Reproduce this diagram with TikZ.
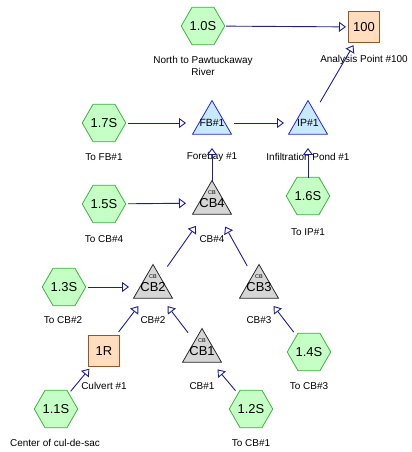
\documentclass[tikz,border=0pt]{standalone}
\usepackage{fontspec}
\setmainfont{Liberation Sans}
\usepackage{tikz}
\usetikzlibrary{positioning}
\usetikzlibrary{arrows.meta}
\usetikzlibrary{shapes.geometric}
\usepackage{xcolor}

\definecolor{hexfill}{RGB}{198,255,198}
\definecolor{hexdraw}{RGB}{60,178,60}
\definecolor{reachfill}{RGB}{255,221,190}
\definecolor{reachdraw}{RGB}{150,85,35}
\definecolor{pondfill}{RGB}{200,234,255}
\definecolor{ponddraw}{RGB}{35,35,225}
\definecolor{cbfill}{RGB}{214,214,214}
\definecolor{cbdraw}{RGB}{40,40,40}
\definecolor{flowblue}{RGB}{30,30,140}

\tikzset{
  subcat/.style={regular polygon, regular polygon sides=6, minimum size=42bp, inner sep=0pt,
    draw=hexdraw, fill=hexfill, line width=0.8bp, font=\fontsize{13}{15}\selectfont},
  reach/.style={rectangle, minimum size=31bp, inner sep=0pt,
    draw=reachdraw, fill=reachfill, line width=0.8bp, font=\fontsize{13}{15}\selectfont},
  pond/.style={regular polygon, regular polygon sides=3, minimum size=45bp, inner sep=0pt,
    draw=ponddraw, fill=pondfill, line width=0.8bp},
  cbtri/.style={regular polygon, regular polygon sides=3, minimum size=45bp, inner sep=0pt,
    draw=cbdraw, fill=cbfill, line width=0.8bp},
  pondname/.style={inner sep=0pt, font=\fontsize{10.5}{12}\selectfont},
  cbname/.style={inner sep=0pt, font=\fontsize{13}{15}\selectfont},
  cbtag/.style={inner sep=0pt, font=\fontsize{5.5}{6}\selectfont},
  lbl/.style={inner sep=0pt, align=center, font=\fontsize{10}{12}\selectfont},
  flow/.style={draw=flowblue, line width=0.9bp, -{Triangle[length=7bp, width=10bp, fill=white]}}
}

\begin{document}
\begin{tikzpicture}[x=1bp, y=-1bp]
\useasboundingbox (0,0) rectangle (411,452);

% Subcatchments
\foreach \n/\x/\y/\t in {s10/203/26/1.0S, s17/104/123/1.7S, s15/104/204/1.5S, s16/308/196/1.6S,
    s13/64/287/1.3S, s14/309/352/1.4S, s11/56/409/1.1S, s12/251/409/1.2S} {
    \node[subcat] (\n) at (\x,\y) {\t};
}

% Reaches
\node[reach] (p100) at (364,27) {100};
\node[reach] (r1) at (104,351) {1R};

% Ponds
\foreach \n/\x/\y/\t in {fb1/212/123/FB\#1, ip1/308/123/IP\#1} {
    \node[pond] (\n) at (\x,\y) {};
    \node[pondname] (\n-name) at (\n) {\t};
}

% Catch basins
\foreach \n/\x/\y/\t in {cb4/212/203/CB4, cb2/153/287/CB2, cb3/259/287/CB3, cb1/202/351/CB1} {
    \node[cbtri] (\n) at (\x,\y) {};
    \node[cbname] (\n-name) at ([yshift=-0.5bp]\n.center) {\t};
    \node[cbtag] (\n-tag) at ([yshift=10.5bp]\n.center) {CB};
}

% Labels
\foreach \n/\x/\y/\t in {l10/203/66/{North to Pawtuckaway\\River}, l100/364/60/{Analysis Point \#100},
    l17/104/157/{To FB\#1}, lfb1/212/157/{Forebay \#1}, lip1/308/157/{Infiltration Pond \#1},
    l15/104/239/{To CB\#4}, lcb4/212/239/{CB\#4}, l16/308/232/{To IP\#1},
    l13/63/320/{To CB\#2}, lcb2/153/320/{CB\#2}, lcb3/259/320/{CB\#3},
    lr1/104/386/{Culvert \#1}, lcb1/202/386/{CB\#1}, l14/309/386/{To CB\#3},
    l11/55/443/{Center of cul-de-sac}, l12/251/443/{To CB\#1}} {
    \node[lbl] (\n) at (\x,\y) {\t};
}

% Links
\foreach \a/\b/\sa/\sb in {s10/p100/23/18, ip1/p100/24/21, s17/fb1/24/26, fb1/ip1/22/24,
    s16/ip1/18/25, cb4/fb1/21/25, s15/cb4/24/26, cb2/cb4/25/28, cb3/cb4/24/27,
    s13/cb2/24/24, r1/cb2/24/24, cb1/cb2/23/24, s14/cb3/25/24, s11/r1/23/23, s12/cb1/24/24} {
    \draw[flow, shorten <=\sa bp, shorten >=\sb bp] (\a.center) -- (\b.center);
}
\end{tikzpicture}
\end{document}
